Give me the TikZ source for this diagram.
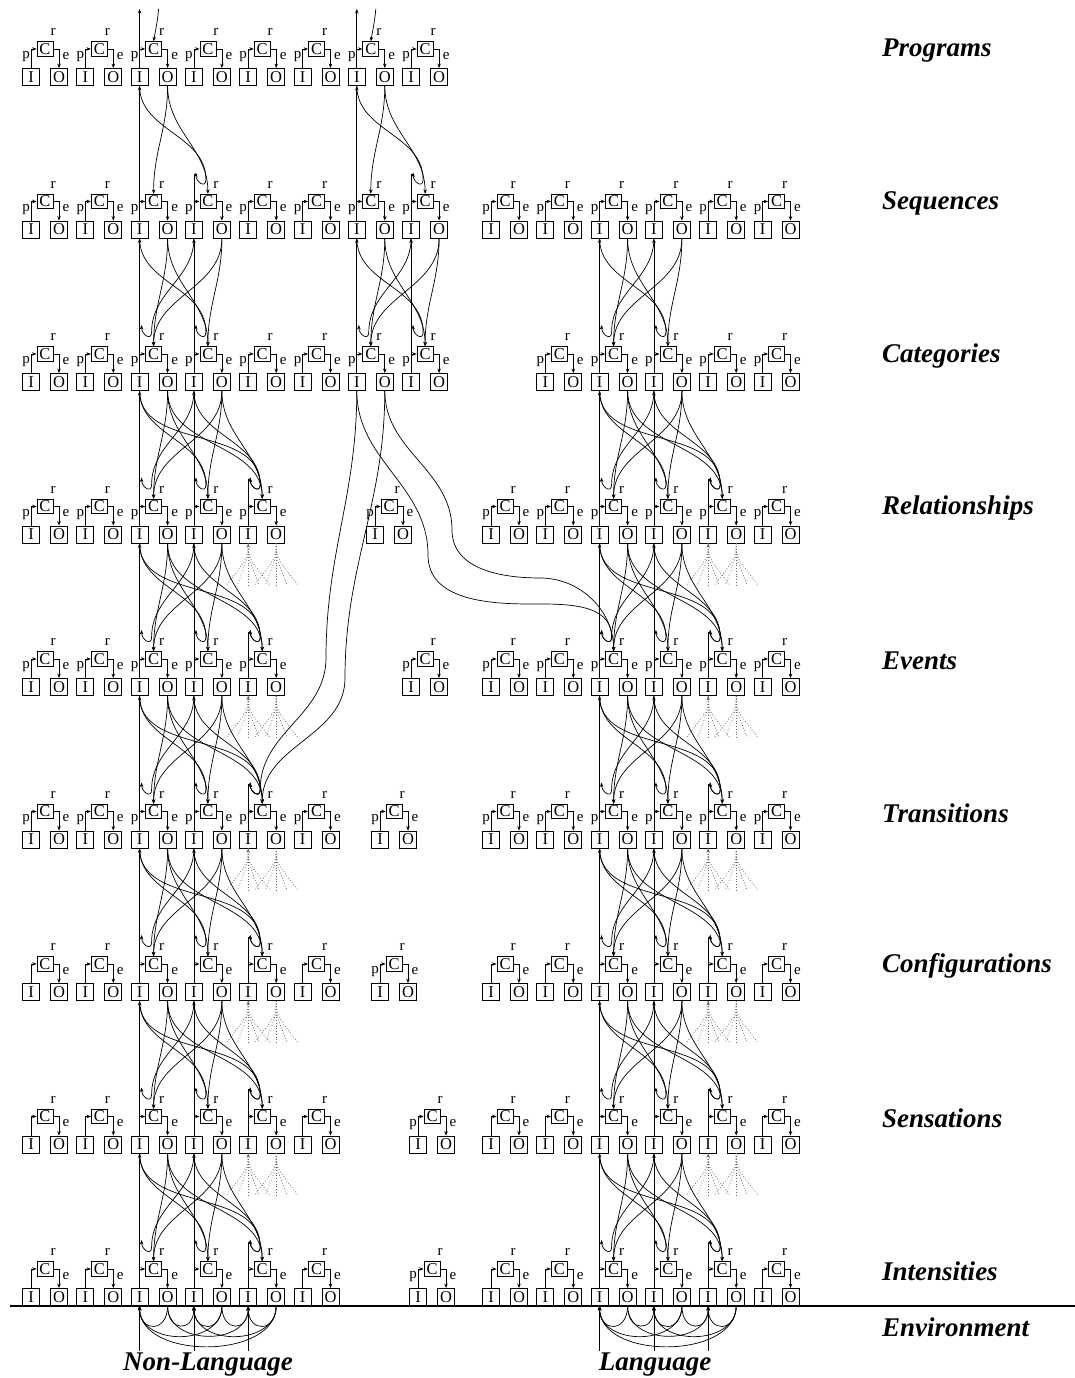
\documentclass[tikz,border=0pt]{standalone}
\usepackage{fontspec}
\setmainfont{Liberation Serif}
\usetikzlibrary{arrows.meta, calc}

\tikzset{
  iobox/.style = {draw, line width=0.8pt, minimum width=17pt, minimum height=17pt,
                  inner sep=0pt, font=\fontsize{16.5}{16.5}\selectfont},
  cbox/.style  = {draw, line width=0.8pt, minimum width=16pt, minimum height=14.5pt,
                  inner sep=0pt, font=\fontsize{16.5}{16.5}\selectfont},
  lbl/.style   = {inner sep=0pt, font=\fontsize{15}{15}\selectfont},
  wire/.style  = {line width=0.7pt},
  tip/.style   = {wire, -{Stealth[length=4.5pt,width=3.5pt]}},
  dots/.style  = {dotted, line width=0.75pt, color=black!60},
  level/.style = {anchor=west, inner sep=0pt, font=\fontsize{27}{27}\selectfont\bfseries\itshape},
  side/.style  = {inner sep=0pt, font=\fontsize{27}{27}\selectfont\bfseries\itshape}
}

% one unit: I and O boxes, C box above, p / e / r
\newcommand{\cell}[4]{%
  \begin{scope}[shift={(#2,#3)}]
    \node[iobox] (I#1) at (0,0)   {I};
    \node[iobox] (O#1) at (28,0)  {O};
    \node[cbox]  (C#1) at (14,28) {C};
    \coordinate (U#1) at (12,50);
    \coordinate (T#1) at (2,57);
    \coordinate (V#1) at (0,55);
    \draw[tip] (I#1.north) |- (C#1.west);
    \draw[tip] (C#1.east) -| (O#1.north);
    \node[lbl] at (22,45) {r};
    \node[lbl] at (35,21) {e};
    \ifnum#4=1 \node[lbl] at (-5,20) {p};\fi
  \end{scope}}

% a row of units of one group
\newcommand{\rowcells}[6]{%
  \foreach \k in {#4} {\pgfmathsetmacro\xx{#6+54.3*\k}\cell{#1#2-\k}{\xx}{#3}{#5}}}

% links between an upper row and the row below
\newcommand{\gap}[4]{%
  \foreach \kup in {#3} {
    \foreach \klo in {#4} {
      \draw[tip] (O#1-\kup.south) to[out=-90,in=90] (C#2-\klo.north);
      \ifnum\kup=\klo\else
        \draw[tip] (I#1-\kup.south) to[out=-90,in=90] (U#2-\klo)
              to[out=-90,in=-90,looseness=2] (T#2-\klo);
      \fi
    }}}

% dotted fan below a box
\newcommand{\fan}[1]{%
  \foreach \d in {-22,-11,11,22}
    {\draw[dots] (#1.south) .. controls ($(#1.south)+(0,-14)$) .. ($(#1.south)+(\d,-42)$);}}

\begin{document}
\begin{tikzpicture}[x=1pt, y=1pt]
  \useasboundingbox (0,0) rectangle (1075,1378);

  % ── units ─────────────────────────────────────────────
  \rowcells{L}{0}{1301}{0,...,7}{1}{31}
  \rowcells{L}{1}{1148.5}{0,...,7}{1}{31}
  \rowcells{R}{1}{1148.5}{0,...,5}{1}{491}
  \rowcells{L}{2}{996}{0,...,7}{1}{31}
  \rowcells{R}{2}{996}{1,...,5}{1}{491}
  \rowcells{L}{3}{843.5}{0,...,4}{1}{31}
  \cell{M3}{375}{843.5}{1}
  \rowcells{R}{3}{843.5}{0,...,5}{1}{491}
  \rowcells{L}{4}{691}{0,...,4}{1}{31}
  \cell{M4}{411}{691}{1}
  \rowcells{R}{4}{691}{0,...,5}{1}{491}
  \rowcells{L}{5}{538.5}{0,...,5}{1}{31}
  \cell{M5}{380}{538.5}{1}
  \rowcells{R}{5}{538.5}{0,...,5}{1}{491}
  \rowcells{L}{6}{386}{0,...,5}{0}{31}
  \cell{M6}{380}{386}{1}
  \rowcells{R}{6}{386}{0,...,5}{0}{491}
  \rowcells{L}{7}{233.5}{0,...,5}{0}{31}
  \cell{M7}{418}{233.5}{1}
  \rowcells{R}{7}{233.5}{0,...,5}{0}{491}
  \rowcells{L}{8}{81}{0,...,5}{0}{31}
  \cell{M8}{418}{81}{1}
  \rowcells{R}{8}{81}{0,...,5}{0}{491}

  % ── vertical columns ──────────────────────────────────
  \foreach \s [count=\r from 1] in {0,...,7} {\draw[tip] (IL\r-2.north) -- (IL\s-2.south);}
  \foreach \s [count=\r from 2] in {1,...,7} {\draw[tip] (IL\r-3.north) -- (IL\s-3.south);}
  \draw[wire] (IL1-3.north) -- (VL1-3);
  \foreach \r in {3,...,8} {\draw[wire] (IL\r-4.north) -- (VL\r-4);}
  \draw[tip] (IL1-6.north) -- (IL0-6.south);
  \draw[tip] (IL2-6.north) -- (IL1-6.south);
  \draw[tip] (IL2-7.north) -- (IL1-7.south);
  \draw[wire] (IL1-7.north) -- (VL1-7);
  \foreach \s [count=\r from 2] in {1,...,7} {
    \draw[tip] (IR\r-2.north) -- (IR\s-2.south);
    \draw[tip] (IR\r-3.north) -- (IR\s-3.south);}
  \foreach \r in {3,...,8} {\draw[wire] (IR\r-4.north) -- (VR\r-4);}

  % ── top ends ──────────────────────────────────────────
  \foreach \k in {2,6} {
    \coordinate (topL\k) at ($(IL0-\k)+(0,68)$);
    \coordinate (srcL\k) at ($(IL0-\k)+(19,68)$);
    \draw[tip] (IL0-\k.north) -- (topL\k);
    \draw[tip] (srcL\k) to[out=-95,in=80] (CL0-\k.north);}

  % ── links between rows ────────────────────────────────
  \gap{L0}{L1}{2}{2,3}
  \gap{L1}{L2}{2,3}{2,3}
  \foreach \r/\s in {2/3,3/4,4/5,5/6,6/7,7/8} {\gap{L\r}{L\s}{2,3}{2,3,4}}
  \gap{L0}{L1}{6}{6,7}
  \gap{L1}{L2}{6,7}{6,7}
  \gap{R1}{R2}{2,3}{2,3}
  \foreach \r/\s in {2/3,3/4,4/5,5/6,6/7,7/8} {\gap{R\r}{R\s}{2,3}{2,3,4}}

  % ── dotted fans ───────────────────────────────────────
  \foreach \g in {L,R} {
    \foreach \r in {3,...,7} {
      \draw[dots, {Stealth[length=4.5pt,width=3.5pt]}-] (I\g\r-4.south) -- ++(0,-42);
      \draw[dots] (O\g\r-4.south) -- ++(0,-42);
      \fan{I\g\r-4}
      \fan{O\g\r-4}}}

  % ── long links from Categories ────────────────────────
  \coordinate (wA)  at (326,720);
  \coordinate (wB)  at (345,700);
  \coordinate (wC1) at (428,823);
  \coordinate (wC2) at (530,774);
  \coordinate (wD1) at (452,848);
  \coordinate (wD2) at (540,800);
  \draw[tip] (IL2-6.south) to[out=-90,in=90] (wA) to[out=-90,in=90] (UL5-4)
             to[out=-90,in=-90,looseness=2] (TL5-4);
  \draw[tip] (OL2-6.south) to[out=-90,in=90] (wB) to[out=-90,in=90] (CL5-4.north);
  \draw[tip] (IL2-6.south) to[out=-90,in=90] (wC1) to[out=-90,in=180] (wC2)
             to[out=0,in=90] (UR4-2) to[out=-90,in=-90,looseness=2] (TR4-2);
  \draw[tip] (OL2-6.south) to[out=-90,in=90] (wD1) to[out=-90,in=180] (wD2)
             to[out=0,in=90] (CR4-2.north);

  % ── environment ───────────────────────────────────────
  \coordinate (envW) at (10,72);
  \coordinate (envE) at (1075,72);
  \draw[line width=1.6pt] (envW) -- (envE);
  \foreach \g in {L,R} {
    \foreach \k in {2,3,4} {
      \coordinate (bot\g-\k) at ($(I\g8-\k.south)+(0,-45)$);
      \draw[tip] (bot\g-\k) -- (I\g8-\k.south);
      \foreach \m in {2,3,4} {
        \pgfmathsetmacro\cc{20+0.25*abs(28+54.3*(\k-\m))}
        \draw[tip] (O\g8-\k.south) .. controls ($(O\g8-\k.south)+(0,-\cc)$)
              and ($(I\g8-\m.south)+(0,-\cc)$) .. (I\g8-\m.south);}}}

  % ── level names ───────────────────────────────────────
  \node[level] (lvProg) at (882,1327)   {Programs};
  \node[level] (lvSeq)  at (882,1174.5) {Sequences};
  \node[level] (lvCat)  at (882,1022)   {Categories};
  \node[level] (lvRel)  at (882,869.5)  {Relationships};
  \node[level] (lvEv)   at (882,717)    {Events};
  \node[level] (lvTr)   at (882,564.5)  {Transitions};
  \node[level] (lvConf) at (882,412)    {Configurations};
  \node[level] (lvSens) at (882,259.5)  {Sensations};
  \node[level] (lvInt)  at (882,107)    {Intensities};
  \node[level] (lvEnv)  at (882,51)     {Environment};
  \node[side]  (nonlang) at (208,13) {Non-Language};
  \node[side]  (lang)    at (655,13) {Language};
\end{tikzpicture}
\end{document}
